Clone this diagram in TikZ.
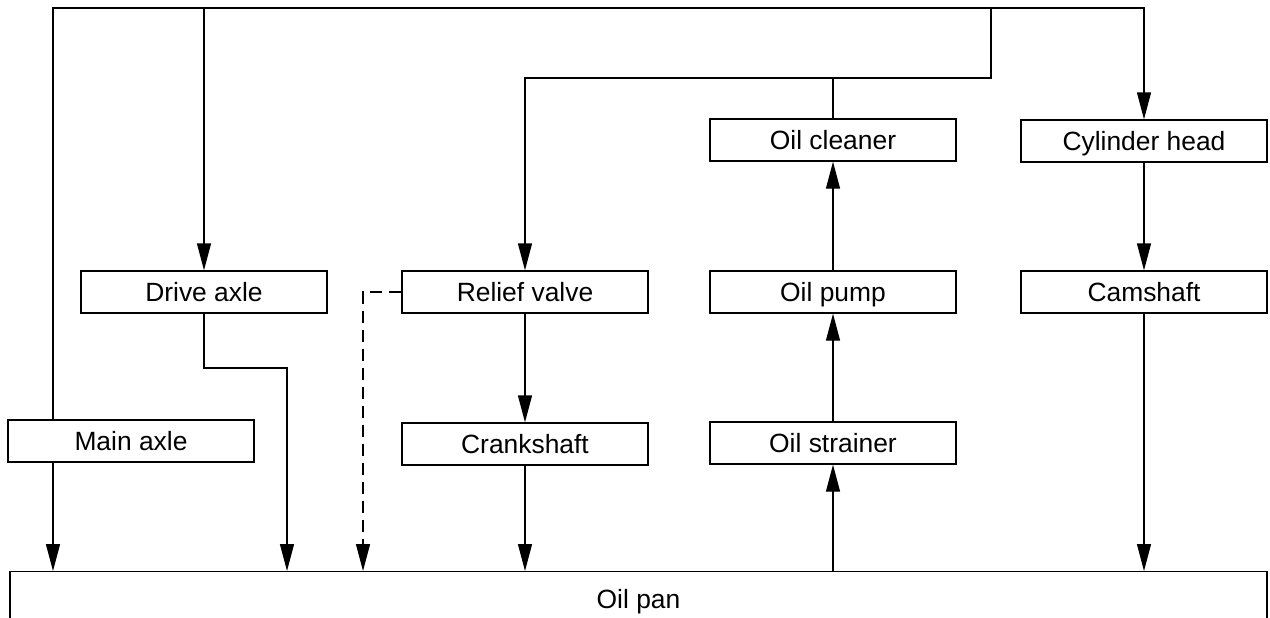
\documentclass[tikz,border=0pt]{standalone}
\usepackage{fontspec}
\setmainfont{Liberation Sans}
\usetikzlibrary{arrows.meta,positioning}

\begin{document}
\begin{tikzpicture}[
  x=0.5pt,y=-0.5pt,
  every node/.style={font=\fontsize{13.2}{15}\selectfont},
  part/.style={draw,line width=0.65pt,inner sep=0pt,text height=9.4pt,text depth=0pt,
               minimum width=123pt,minimum height=21pt,align=center},
  pan/.style={draw,line width=0.65pt,inner sep=0pt,text height=9.4pt,text depth=0pt,
              minimum width=628.5pt,minimum height=27pt,anchor=north},
  line/.style={line width=0.65pt},
  arr/.style={line width=0.65pt,-{Triangle[length=13.5pt,width=7pt]}}]
\useasboundingbox (0,0) rectangle (1270,617);
%--- Parts ---
\node[part] (main)     at (131,441)  {Main axle};
\node[part] (drive)    at (204,292)  {Drive axle};
\node[part] (relief)   at (525,292)  {Relief valve};
\node[part] (crank)    at (525,444)  {Crankshaft};
\node[part] (cleaner)  at (833,140)  {Oil cleaner};
\node[part] (pump)     at (833,292)  {Oil pump};
\node[part] (strainer) at (833,443)  {Oil strainer};
\node[part] (cylhead)  at (1144,141) {Cylinder head};
\node[part] (cam)      at (1144,292) {Camshaft};
\node[pan]  (pan)      at (638.5,571) {Oil pan};
%--- Bends ---
\coordinate (tl) at (53,8);
\coordinate (tr) at (1144,8);
\coordinate (jn) at (991,8);
\coordinate (jc) at (991,78);
\coordinate (dk) at (287,368);
\coordinate (dv) at (363,300);
%--- Supply from the top ---
\draw[arr] (main.north -| tl) -- (tl) -- (tr) -- (cylhead.north);
\draw[arr] (tl -| drive) -- (drive.north);
\draw[arr] (jn) -- (jc) -- (jc -| relief) -- (relief.north);
\draw[line] (cleaner.north) -- (cleaner.north |- jc);
%--- Pump chain ---
\draw[arr] (strainer.south |- pan.north) -- (strainer.south);
\draw[arr] (strainer) -- (pump);
\draw[arr] (pump) -- (cleaner);
%--- Return to the pan ---
\draw[arr] (main.south -| tl) -- (tl |- pan.north);
\draw[arr] (drive.south) -- (drive.south |- dk) -- (dk) -- (dk |- pan.north);
\draw[arr,dash pattern=on 6pt off 3.5pt] (relief.west) -- (relief.west -| dv) -- (dv |- pan.north);
\draw[arr] (relief) -- (crank);
\draw[arr] (crank.south) -- (crank.south |- pan.north);
\draw[arr] (cylhead) -- (cam);
\draw[arr] (cam.south) -- (cam.south |- pan.north);
\end{tikzpicture}
\end{document}
